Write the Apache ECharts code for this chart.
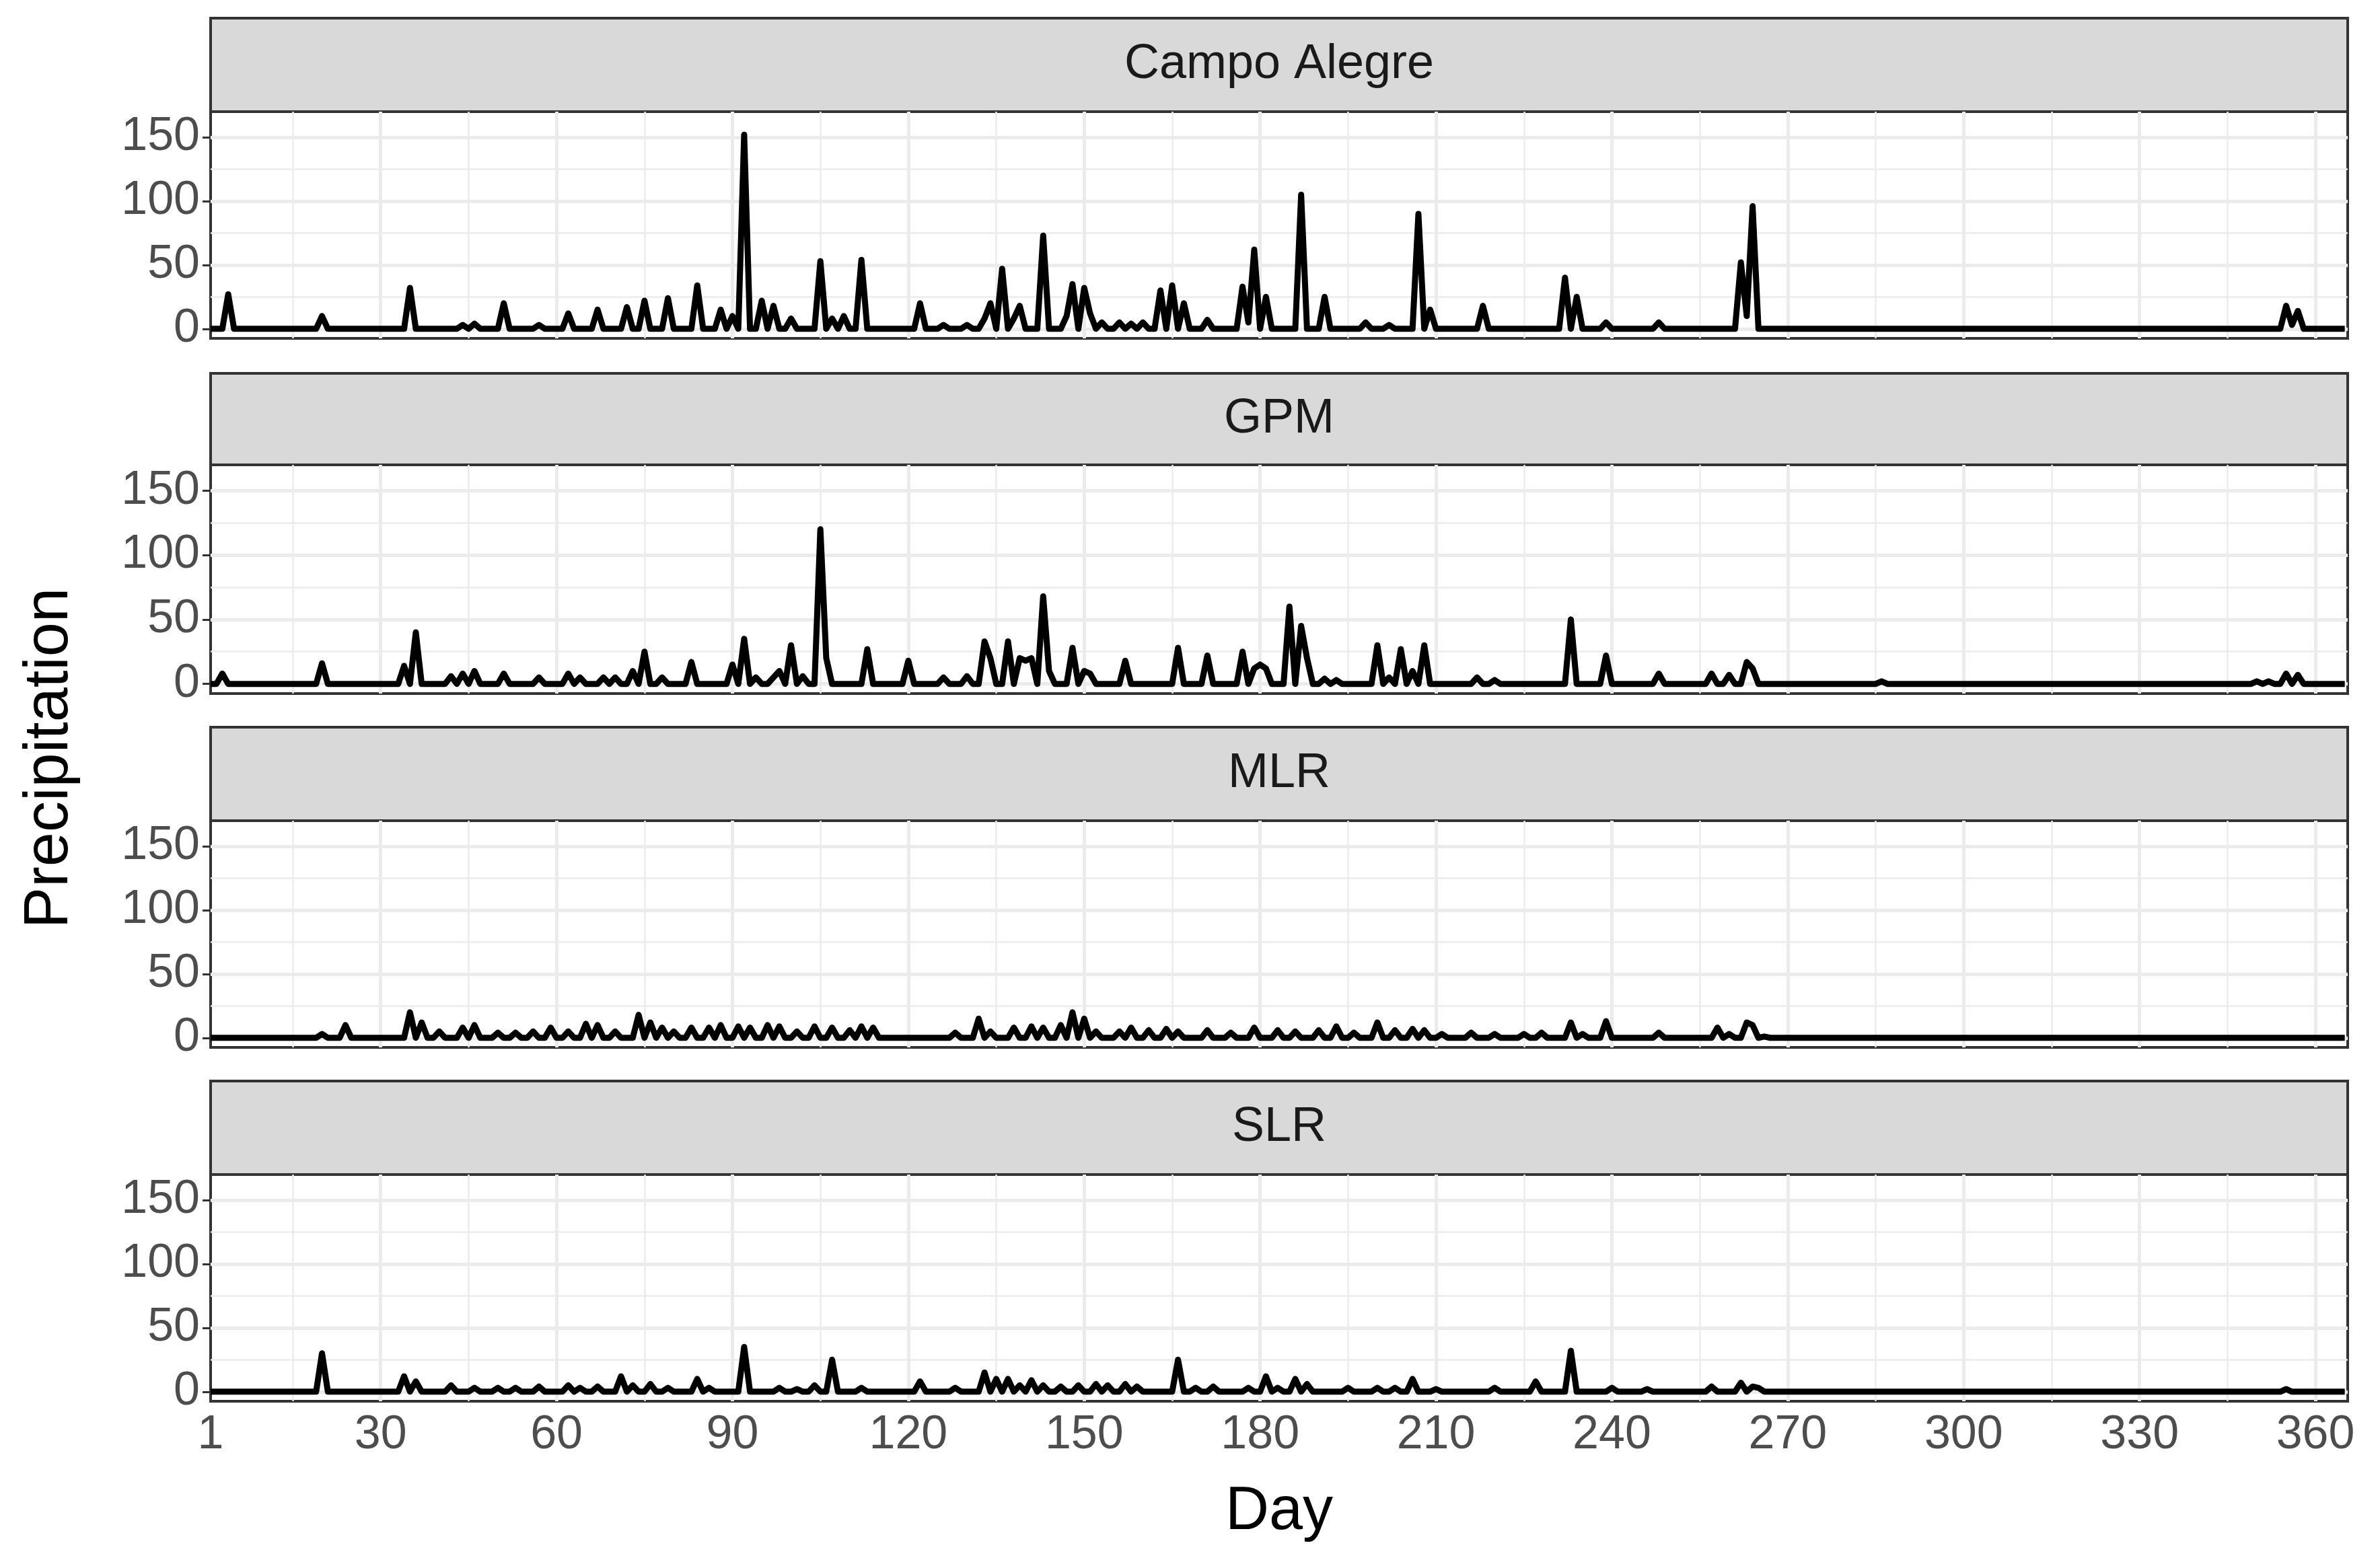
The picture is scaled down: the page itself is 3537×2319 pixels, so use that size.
<!DOCTYPE html>
<html>
<head>
<meta charset="utf-8">
<script src="https://cdn.jsdelivr.net/npm/echarts@6/dist/echarts.min.js"></script>
<style>html,body{margin:0;padding:0;background:#fff}#chart{width:3537px;height:2319px}</style>
</head>
<body>
<div id="chart"></div>
<script>
// rain events: [day, precipitation]; other days are 0
var panelNames = ['Campo Alegre', 'GPM', 'MLR', 'SLR'];
var campoEvents = [[4,27],[20,10],[35,32],[44,3],[46,4],[51,20],[57,3],[62,12],[67,15],[72,17],[75,22],[79,24],[84,34],[88,15],[90,10],[92,152],[95,22],[97,18],[100,8],[105,53],[107,8],[109,10],[112,54],[122,20],[126,3],[130,3],[133,8],[134,20],[136,47],[138,8],[139,18],[143,73],[147,10],[148,35],[150,32],[151,12],[153,5],[156,5],[158,4],[160,5],[163,30],[165,34],[167,20],[171,7],[177,33],[178,5],[179,62],[181,25],[187,105],[191,25],[198,5],[202,3],[207,90],[209,15],[218,18],[232,40],[234,25],[239,5],[248,5],[262,52],[263,10],[264,96],[355,18],[356,3],[357,14]];
var gpmEvents = [[3,8],[20,16],[34,14],[36,40],[42,6],[44,8],[46,10],[51,8],[57,5],[62,8],[64,5],[68,5],[70,5],[73,10],[75,25],[78,5],[83,17],[90,15],[92,35],[94,5],[97,5],[98,10],[100,30],[102,6],[105,120],[106,20],[113,27],[120,18],[126,5],[130,6],[133,33],[134,20],[137,33],[139,20],[140,18],[141,20],[143,68],[144,10],[148,28],[150,10],[151,8],[157,18],[166,28],[171,22],[177,25],[179,12],[180,15],[181,12],[185,60],[187,45],[188,20],[191,4],[193,3],[200,30],[202,5],[204,27],[206,10],[208,30],[217,5],[220,3],[233,50],[239,22],[248,8],[257,8],[260,7],[263,17],[264,12],[286,2],[350,2],[352,2],[355,8],[357,7]];
var mlrEvents = [[20,3],[24,10],[35,20],[37,12],[40,5],[44,8],[46,10],[50,4],[53,4],[56,5],[59,8],[62,5],[65,11],[67,10],[70,5],[74,18],[76,12],[78,8],[80,5],[83,8],[86,8],[88,10],[91,9],[93,8],[96,10],[98,9],[101,5],[104,9],[107,8],[110,6],[112,9],[114,8],[128,4],[132,15],[134,5],[138,8],[141,9],[143,8],[146,10],[148,20],[150,15],[152,5],[156,5],[158,8],[161,6],[164,7],[166,5],[171,6],[175,4],[179,8],[183,6],[186,5],[190,6],[193,9],[196,4],[200,12],[203,6],[206,7],[208,6],[211,3],[216,4],[220,3],[225,3],[228,4],[233,12],[235,3],[239,13],[248,4],[258,8],[260,3],[263,12],[264,10],[266,1]];
var slrEvents = [[20,30],[34,12],[36,8],[42,5],[46,3],[50,3],[53,3],[57,4],[62,5],[64,3],[67,4],[71,12],[73,5],[76,6],[79,3],[84,10],[86,3],[92,35],[98,3],[101,2],[104,5],[107,25],[112,3],[122,8],[128,3],[133,15],[135,10],[137,10],[139,5],[141,9],[143,5],[146,4],[149,5],[152,6],[154,5],[157,6],[159,4],[166,25],[169,3],[172,4],[178,3],[181,12],[183,3],[186,10],[188,6],[195,3],[200,3],[203,3],[206,10],[210,2],[220,3],[227,8],[233,32],[240,3],[246,2],[257,4],[262,7],[264,4],[265,3],[355,2]];
var allEvents = [campoEvents, gpmEvents, mlrEvents, slrEvents];
var xLabels = [1, 30, 60, 90, 120, 150, 180, 210, 240, 270, 300, 330, 360];
var yLabels = [0, 50, 100, 150];
var xGrid = [15, 30, 45, 60, 75, 90, 105, 120, 135, 150, 165, 180, 195, 210, 225, 240, 255, 270, 285, 300, 315, 330, 345, 360];
var yGrid = [0, 25, 50, 75, 100, 125, 150];

function daily(events) {
  var map = {};
  events.forEach(function (e) { map[e[0]] = e[1]; });
  var out = [];
  for (var d = 1; d <= 365; d++) out.push([d, map[d] || 0]);
  return out;
}

var chart = echarts.init(document.getElementById('chart'));
var L = 313, R = 48;
var plotTop = [166, 691, 1220, 1746], plotBot = [503, 1031, 1557, 2083];
var stripTop = [27, 555, 1081, 1607];
var grids = [], xAxes = [], yAxes = [], series = [], graphics = [];
var W = 3537 - L - R;

panelNames.forEach(function (name, i) {
  grids.push({ left: L, right: R, top: plotTop[i], height: plotBot[i] - plotTop[i],
    show: true, borderColor: '#333', borderWidth: 4, backgroundColor: '#fff' });
  xAxes.push({ type: 'value', gridIndex: i, min: 1, max: 365.5,
    axisLine: { show: false },
    axisTick: { show: i === 3, length: 12, lineStyle: { color: '#333', width: 3 }, customValues: xLabels },
    axisLabel: { show: i === 3, fontSize: 70, color: '#4d4d4d', fontFamily: 'Liberation Sans', margin: 16, customValues: xLabels },
    splitLine: { show: false },
    name: i === 3 ? 'Day' : '', nameLocation: 'middle', nameGap: 120,
    nameTextStyle: { fontSize: 90, color: '#000', fontFamily: 'Liberation Sans' } });
  yAxes.push({ type: 'value', gridIndex: i, min: -7.5, max: 170,
    axisLine: { show: false },
    axisTick: { show: true, length: 12, lineStyle: { color: '#333', width: 3 }, customValues: yLabels },
    axisLabel: { fontSize: 70, color: '#4d4d4d', fontFamily: 'Liberation Sans', margin: 16, customValues: yLabels },
    splitLine: { show: false } });
  var gl = yGrid.map(function (v) {
    return { yAxis: v, lineStyle: { color: '#ebebeb', width: v % 50 === 0 ? 5 : 2.5, type: 'solid' } };
  }).concat(xGrid.map(function (v) {
    return { xAxis: v, lineStyle: { color: '#ebebeb', width: v % 30 === 0 ? 5 : 2.5, type: 'solid' } };
  }));
  series.push({ type: 'line', xAxisIndex: i, yAxisIndex: i, data: daily(allEvents[i]),
    showSymbol: false, lineStyle: { color: '#000', width: 9, join: 'round' }, z: 5,
    markLine: { silent: true, symbol: 'none', label: { show: false }, z: 1, data: gl } });
  graphics.push({ type: 'rect', shape: { x: L, y: stripTop[i], width: W, height: plotTop[i] - stripTop[i] },
    style: { fill: '#d9d9d9', stroke: '#333', lineWidth: 4 } });
  graphics.push({ type: 'text', x: L + W / 2, y: (stripTop[i] + plotTop[i]) / 2,
    style: { text: name, fontSize: 72, fill: '#1a1a1a', fontFamily: 'Liberation Sans', align: 'center', verticalAlign: 'middle' } });
});
graphics.push({ type: 'text', x: 75, y: 1127, rotation: Math.PI / 2,
  style: { text: 'Precipitation', fontSize: 92, fill: '#000', fontFamily: 'Liberation Sans', align: 'center', verticalAlign: 'middle' } });

chart.setOption({
  animation: false,
  backgroundColor: '#fff',
  grid: grids, xAxis: xAxes, yAxis: yAxes, series: series, graphic: graphics
});
</script>
</body>
</html>
